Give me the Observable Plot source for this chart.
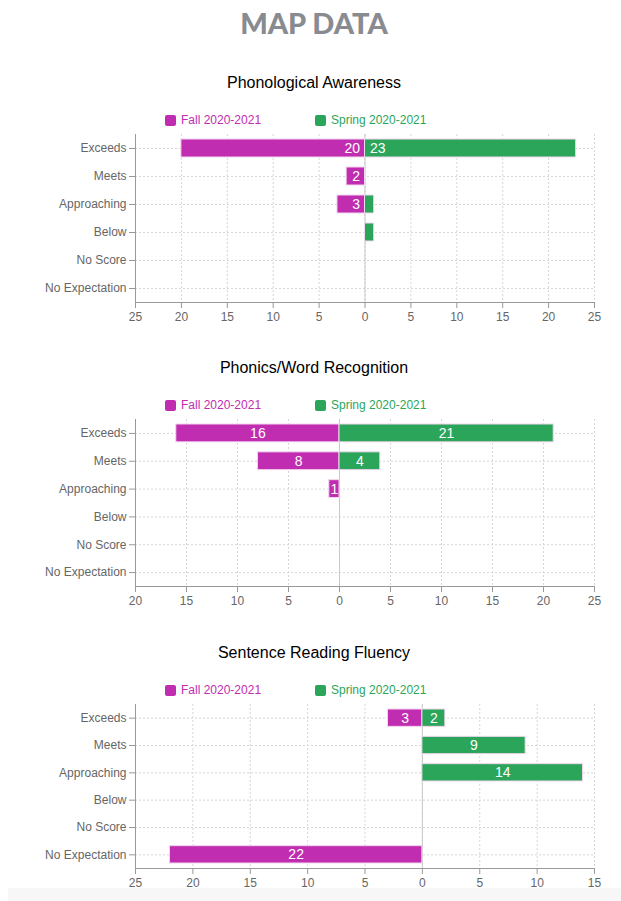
<!DOCTYPE html>
<html>
<head>
<meta charset="utf-8">
<script src="https://cdn.jsdelivr.net/npm/d3@7"></script>
<script src="https://cdn.jsdelivr.net/npm/@observablehq/plot@0.6"></script>
<style>
  body { margin:0; width:621px; height:901px; position:relative; background:#fff; font-family:"Liberation Sans", Arial, sans-serif; overflow:hidden; }
  .abs { position:absolute; }
  .main { left:0; width:628px; text-align:center; font-family:Lato, sans-serif; font-weight:900; font-size:29px; line-height:30px; color:#888b91; top:8px; }
  .ctitle { left:0; width:628px; text-align:center; font-size:16px; line-height:20px; color:#000; }
  .leg { font-size:12px; line-height:14px; display:flex; align-items:center; }
  .sw { width:11px; height:11px; border-radius:2px; margin-right:5px; }
  .strip { left:8px; right:0; top:888px; height:13px; background:#f7f7f7; }
</style>
</head>
<body>
<div class="abs main">MAP DATA</div>
<div class="abs strip"></div>
<script>
const categories = ["Exceeds","Meets","Approaching","Below","No Score","No Expectation"];
const seriesNames = ["Fall 2020-2021","Spring 2020-2021"];
const colors = ["#c02db0","#2ba55a"];

const chartTitles = ["Phonological Awareness","Phonics/Word Recognition","Sentence Reading Fluency"];
const paFall = [20,2,3,0,0,0];
const paSpring = [23,0,1,1,0,0];
const pwrFall = [16,8,1,0,0,0];
const pwrSpring = [21,4,0,0,0,0];
const srfFall = [3,0,0,0,0,22];
const srfSpring = [2,9,14,0,0,0];
const domains = [[-25,25],[-20,25],[-25,15]];

const charts = [
  {title: chartTitles[0], fall: paFall, spring: paSpring, domain: domains[0], plotTop: 134, plotH: 168, labelMode: "inner"},
  {title: chartTitles[1], fall: pwrFall, spring: pwrSpring, domain: domains[1], plotTop: 419, plotH: 167, labelMode: "center"},
  {title: chartTitles[2], fall: srfFall, spring: srfSpring, domain: domains[2], plotTop: 704, plotH: 164, labelMode: "center"}
];

charts.forEach(c => {
  const t = document.createElement("div");
  t.className = "abs ctitle";
  t.style.top = (c.plotTop - 61) + "px";
  t.textContent = c.title;
  document.body.appendChild(t);

  [165, 315].forEach((lx, i) => {
    const l = document.createElement("div");
    l.className = "abs leg";
    l.style.left = lx + "px";
    l.style.top = (c.plotTop - 21) + "px";
    l.style.color = colors[i];
    l.innerHTML = `<span class="sw" style="background:${colors[i]}"></span><span>${seriesNames[i]}</span>`;
    document.body.appendChild(l);
  });

  const rows = [];
  categories.forEach((cat, i) => {
    if (c.fall[i] > 0) rows.push({cat, series: 0, v: c.fall[i]});
    if (c.spring[i] > 0) rows.push({cat, series: 1, v: c.spring[i]});
  });
  const ticks = d3.range(c.domain[0], c.domain[1] + 1, 5);
  const sign = d => d.series === 0 ? -1 : 1;

  const textMarks = c.labelMode === "inner"
    ? [
        Plot.text(rows.filter(d => d.series === 0 && d.v > 1), {x: 0, y: "cat", text: d => String(d.v), textAnchor: "end", dx: -5, fill: "white", fontSize: 14}),
        Plot.text(rows.filter(d => d.series === 1 && d.v > 1), {x: 0, y: "cat", text: d => String(d.v), textAnchor: "start", dx: 5, fill: "white", fontSize: 14})
      ]
    : [
        Plot.text(rows, {x: d => sign(d) * d.v / 2, y: "cat", text: d => String(d.v), fill: "white", fontSize: 14})
      ];

  const svg = Plot.plot({
    width: 621,
    height: c.plotH + 40,
    marginTop: 10,
    marginBottom: 30,
    marginLeft: 135,
    marginRight: 27,
    style: {fontSize: "12px", fontFamily: "'Liberation Sans', Arial, sans-serif", color: "#666", background: "transparent", overflow: "visible"},
    x: {domain: c.domain, ticks: ticks, tickFormat: d => String(Math.abs(d))},
    y: {type: "band", domain: categories, padding: 0, round: false},
    marks: [
      Plot.ruleX(ticks, {stroke: "#d6d6d6", strokeDasharray: "2,2"}),
      Plot.ruleY(categories, {y: d => d, stroke: "#d6d6d6", strokeDasharray: "2,2"}),
      Plot.ruleX([0], {stroke: "#c8c8c8"}),
      Plot.barX(rows, {y: "cat", x1: 0, x2: d => sign(d) * d.v, fill: d => colors[d.series], stroke: "#f3d6ef", strokeWidth: 1, insetTop: 5, insetBottom: 5}),
      ...textMarks,
      Plot.axisY({tickSize: 6, tickPadding: 3, stroke: "#999", color: "#666", label: null}),
      Plot.axisX({ticks: ticks, tickSize: 6, tickPadding: 4, stroke: "#999", tickFormat: d => String(Math.abs(d)), label: null}),
      Plot.ruleX([c.domain[0]], {stroke: "#999"}),
      Plot.frame({anchor: "bottom", stroke: "#999"})
    ]
  });
  svg.style.position = "absolute";
  svg.style.left = "0px";
  svg.style.top = (c.plotTop - 10) + "px";
  document.body.appendChild(svg);
});
</script>
</body>
</html>
